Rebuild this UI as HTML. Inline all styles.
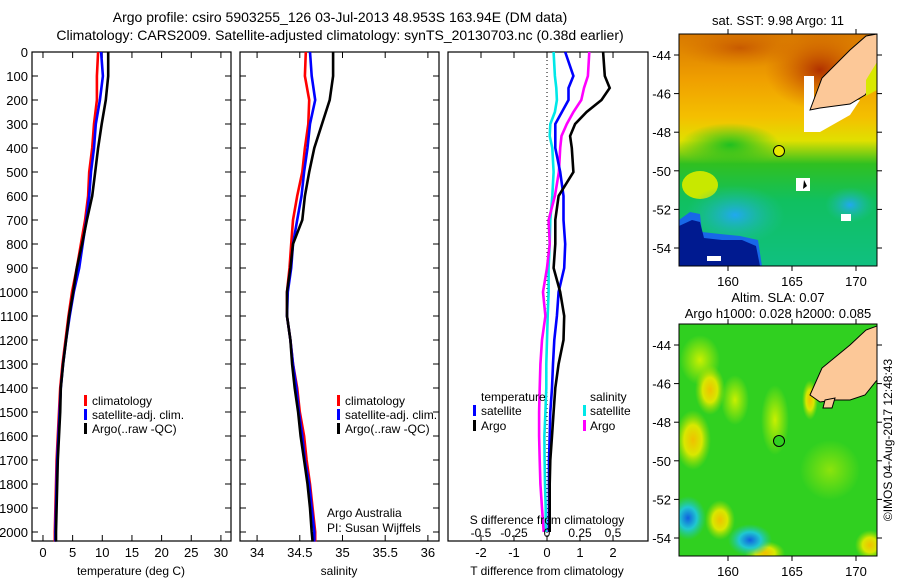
<!DOCTYPE html>
<html><head><meta charset="utf-8">
<style>
body{margin:0;background:#fff;}
svg{display:block;font-family:"Liberation Sans",sans-serif;}
</style></head>
<body>
<svg id="fig" width="900" height="580" viewBox="0 0 900 580" xmlns="http://www.w3.org/2000/svg">
<defs>
<linearGradient id="sstTop" x1="0" y1="0" x2="0" y2="1">
<stop offset="0" stop-color="#d87800"/><stop offset="0.2" stop-color="#f0a000"/><stop offset="0.36" stop-color="#f4c000"/><stop offset="0.46" stop-color="#e0e000"/><stop offset="0.56" stop-color="#30c020"/><stop offset="0.72" stop-color="#10c060"/><stop offset="1" stop-color="#10c080"/>
</linearGradient>
<radialGradient id="cyanBlob" cx="0.5" cy="0.5" r="0.5"><stop offset="0" stop-color="#20a8f0"/><stop offset="1" stop-color="#20c0a0" stop-opacity="0"/></radialGradient>
<radialGradient id="yelBlob" cx="0.5" cy="0.5" r="0.5"><stop offset="0" stop-color="#f0c000"/><stop offset="0.5" stop-color="#d8e800"/><stop offset="1" stop-color="#a0e000" stop-opacity="0"/></radialGradient>
<radialGradient id="ltBlob" cx="0.5" cy="0.5" r="0.5"><stop offset="0" stop-color="#c8f000"/><stop offset="1" stop-color="#c8f000" stop-opacity="0"/></radialGradient>
<radialGradient id="blueBlob" cx="0.5" cy="0.5" r="0.5"><stop offset="0" stop-color="#1060e0"/><stop offset="0.5" stop-color="#20c8d0"/><stop offset="1" stop-color="#20c8a0" stop-opacity="0"/></radialGradient>
<radialGradient id="redBlob" cx="0.5" cy="0.5" r="0.5"><stop offset="0" stop-color="#b03000"/><stop offset="1" stop-color="#d06000" stop-opacity="0"/></radialGradient>
<radialGradient id="grnBlob" cx="0.5" cy="0.5" r="0.5"><stop offset="0" stop-color="#20c020"/><stop offset="1" stop-color="#20c020" stop-opacity="0"/></radialGradient>
<clipPath id="clipTop"><rect x="679" y="34" width="198" height="232"/></clipPath>
<clipPath id="clipBot"><rect x="679" y="324" width="198" height="232"/></clipPath>
</defs>

<text x="340" y="22" font-size="14" text-anchor="middle">Argo profile: csiro 5903255_126 03-Jul-2013 48.953S 163.94E (DM data)</text>
<text x="340" y="40" font-size="14" text-anchor="middle">Climatology: CARS2009. Satellite-adjusted climatology: synTS_20130703.nc (0.38d earlier)</text>

<g id="panels"></g>

<g>
<text x="778" y="25" font-size="13" text-anchor="middle">sat. SST: 9.98 Argo: 11</text>
<g clip-path="url(#clipTop)">
<rect x="679" y="34" width="198" height="232" fill="url(#sstTop)"/>
<ellipse cx="820" cy="70" rx="55" ry="40" fill="url(#redBlob)"/>
<ellipse cx="740" cy="48" rx="60" ry="20" fill="url(#redBlob)" opacity="0.5"/>
<ellipse cx="730" cy="145" rx="50" ry="22" fill="url(#grnBlob)"/>
<ellipse cx="700" cy="185" rx="18" ry="14" fill="#c8e800"/>
<ellipse cx="735" cy="215" rx="50" ry="30" fill="url(#cyanBlob)"/>
<ellipse cx="850" cy="205" rx="25" ry="18" fill="url(#cyanBlob)"/>
<path d="M679 220 L690 212 L700 214 L702 232 L720 234 L740 236 L758 240 L762 266 L679 266Z" fill="#1868e8"/>
<path d="M679 226 L692 220 L700 222 L704 238 L722 240 L742 240 L756 246 L760 266 L679 266Z" fill="#001a90"/>
<rect x="804" y="76" width="10" height="56" fill="#fff"/>
<path d="M804 100 L860 100 L850 115 L820 132 L810 132Z" fill="#fff"/>
<path d="M810 110 L822 78 L850 50 L866 36 L877 34 L877 80 L865 95 L850 104 L835 106 L820 108Z" fill="#fcc898" stroke="#000" stroke-width="1"/>
<path d="M866 80 L877 62 L877 90 L866 96Z" fill="#d8e800"/>
<rect x="796" y="178" width="14" height="13" fill="#fff"/><path d="M804 180 L807 186 L803 189Z" fill="#000"/>
<rect x="841" y="214" width="10" height="7" fill="#fff"/>
<rect x="707" y="256" width="14" height="5" fill="#fff"/>
</g>
<rect x="679" y="34" width="198" height="232" fill="none" stroke="#000"/>
<circle cx="779" cy="151" r="5.5" fill="#e8e800" stroke="#000"/>
<g id="mapTicksTop"></g>
</g>

<g>
<text x="778" y="302" font-size="13" text-anchor="middle">Altim. SLA: 0.07</text>
<text x="778" y="318" font-size="13" text-anchor="middle">Argo h1000: 0.028 h2000: 0.085</text>
<g clip-path="url(#clipBot)">
<rect x="679" y="324" width="198" height="232" fill="#30d020"/>
<ellipse cx="700" cy="360" rx="20" ry="25" fill="url(#ltBlob)"/>
<ellipse cx="693" cy="440" rx="18" ry="30" fill="url(#yelBlob)"/>
<ellipse cx="710" cy="390" rx="15" ry="25" fill="url(#yelBlob)"/>
<ellipse cx="735" cy="400" rx="14" ry="25" fill="url(#ltBlob)"/>
<ellipse cx="775" cy="420" rx="14" ry="35" fill="url(#ltBlob)"/>
<ellipse cx="810" cy="400" rx="8" ry="20" fill="url(#yelBlob)"/>
<ellipse cx="720" cy="520" rx="15" ry="20" fill="url(#yelBlob)"/>
<ellipse cx="765" cy="553" rx="20" ry="12" fill="url(#yelBlob)"/>
<ellipse cx="870" cy="545" rx="15" ry="15" fill="url(#yelBlob)"/>
<ellipse cx="830" cy="470" rx="30" ry="30" fill="url(#ltBlob)" opacity="0.6"/>
<ellipse cx="688" cy="518" rx="18" ry="22" fill="url(#blueBlob)"/>
<ellipse cx="750" cy="540" rx="22" ry="16" fill="url(#blueBlob)"/>
<path d="M810 395 L822 368 L850 345 L866 330 L877 326 L877 380 L865 395 L850 400 L835 400 L820 402Z" fill="#fcc898" stroke="#000" stroke-width="1"/>
<path d="M825 400 L835 398 L832 408 L823 408Z" fill="#fcc898" stroke="#000" stroke-width="1"/>
</g>
<rect x="679" y="324" width="198" height="232" fill="none" stroke="#000"/>
<circle cx="779" cy="441" r="5.5" fill="#30d020" stroke="#000"/>
<g id="mapTicksBot"></g>
</g>
<text transform="translate(892,440) rotate(-90)" font-size="12" text-anchor="middle">©IMOS 04-Aug-2017 12:48:43</text>
</svg>

<script>
const depthsClim = [0,100,200,300,400,500,600,700,800,900,1000,1100,1200,1300,1400,1500,1600,1700,1800,1900,2000,2040];
const tempArgo  = [11.0,11.0,10.6,9.9,9.3,8.8,8.3,7.4,6.6,5.7,5.1,4.4,3.9,3.4,3.0,2.9,2.7,2.5,2.4,2.3,2.2,2.2];
const tempClim  = [9.3,9.1,9.1,8.6,8.3,7.8,7.6,7.1,6.4,5.7,4.9,4.3,3.8,3.3,2.9,2.7,2.5,2.3,2.2,2.1,2.0,2.0];
const tempSat   = [9.8,10.1,9.6,8.9,8.6,8.1,7.8,7.3,6.7,6.1,5.2,4.5,3.9,3.4,3.0,2.8,2.6,2.4,2.3,2.2,2.1,2.1];
const salArgo   = [34.89,34.89,34.85,34.76,34.67,34.61,34.56,34.53,34.42,34.39,34.35,34.35,34.39,34.41,34.44,34.48,34.51,34.55,34.59,34.62,34.64,34.65];
const salClim   = [34.57,34.56,34.61,34.60,34.56,34.53,34.47,34.42,34.40,34.38,34.35,34.35,34.39,34.42,34.47,34.50,34.55,34.58,34.62,34.65,34.68,34.68];
const salSat    = [34.62,34.64,34.68,34.62,34.59,34.55,34.52,34.47,34.42,34.40,34.36,34.35,34.39,34.42,34.46,34.49,34.53,34.56,34.61,34.64,34.67,34.67];
const depthsDiff = [0,100,150,200,250,300,350,400,500,600,700,800,900,1000,1100,1200,1300,1400,1500,1600,1700,1800,1900,2000];
const tDiffSat  = [0.55,0.8,0.65,0.65,0.45,0.25,0.25,0.25,0.4,0.5,0.5,0.55,0.52,0.35,0.3,0.22,0.18,0.15,0.1,0.08,0.06,0.06,0.06,0.05];
const tDiffArgo = [1.7,1.75,1.9,1.65,1.2,0.85,0.7,0.75,0.8,0.35,0.25,0.25,0.2,0.4,0.52,0.5,0.35,0.25,0.2,0.15,0.1,0.08,0.08,0.08];
const sDiffSat  = [0.05,0.06,0.07,0.075,0.06,0.025,0.02,0.04,0.05,0.04,0.025,0.02,0.012,0.012,0.005,0.0,-0.005,-0.005,-0.012,-0.02,-0.018,-0.015,-0.01,-0.01];
const sDiffArgo = [0.32,0.31,0.28,0.26,0.2,0.15,0.11,0.1,0.09,0.06,0.012,0.02,0.0,-0.03,-0.012,-0.038,-0.05,-0.055,-0.06,-0.06,-0.055,-0.05,-0.038,-0.025];
const depthTicks = [0,100,200,300,400,500,600,700,800,900,1000,1100,1200,1300,1400,1500,1600,1700,1800,1900,2000];
const tempTicks = [0,5,10,15,20,25,30];
const salTicks = [34,34.5,35,35.5,36];
const salTickLabels = ["34","34.5","35","35.5","36"];
const tDiffTicks = [-2,-1,0,1,2];
const sDiffTicks = [-0.5,-0.25,0,0.25,0.5];
const sDiffLabels = ["-0.5","-0.25","0","0.25","0.5"];
const lonTicks = [160,165,170];
const latTicks = [-44,-46,-48,-50,-52,-54];

const NS="http://www.w3.org/2000/svg";
function mk(tag, attrs, parent, txt){const e=document.createElementNS(NS,tag);for(const k in attrs)e.setAttribute(k,attrs[k]);if(txt!==undefined)e.textContent=txt;parent.appendChild(e);return e;}
const g=document.getElementById('panels');
const yTop=52, yBot=541;
const yD = d => yTop + d*0.24;

function panel(x0,x1,xmin,xmax,name){
  const xs = v => x0 + (v-xmin)/(xmax-xmin)*(x1-x0);
  const r=mk('rect',{x:x0,y:yTop,width:x1-x0,height:yBot-yTop,fill:'none',stroke:'#000','stroke-width':1.2},g);
  
  
  return xs;
}
function line(xs,vals,depths,color,name,scale){
  const pts=vals.map((v,i)=>xs(v*(scale||1)).toFixed(1)+','+yD(depths[i]).toFixed(1)).join(' ');
  const p=mk('polyline',{points:pts,fill:'none',stroke:color,'stroke-width':2.6},g);
  
  
}
function yTicks(x0,x1,labels){
  depthTicks.forEach(d=>{
    mk('line',{x1:x0,x2:x0+6,y1:yD(d),y2:yD(d),stroke:'#000'},g);
    mk('line',{x1:x1-6,x2:x1,y1:yD(d),y2:yD(d),stroke:'#000'},g);
    if(labels){const t=mk('text',{x:x0-4,y:yD(d)+5,'font-size':13,'text-anchor':'end'},g,String(d));
      
      }
  });
}
function xTicks(xs,ticks,labels,ylab){
  ticks.forEach((v,i)=>{
    mk('line',{x1:xs(v),x2:xs(v),y1:yBot,y2:yBot-6,stroke:'#000'},g);
    mk('line',{x1:xs(v),x2:xs(v),y1:yTop,y2:yTop+6,stroke:'#000'},g);
    const t=mk('text',{x:xs(v),y:ylab,'font-size':13,'text-anchor':'middle'},g,labels[i]);
    
    
  });
}
function txt(x,y,s,name,anchor,size){const t=mk('text',{x:x,y:y,'font-size':size||12,'text-anchor':anchor||'start'},g,s);
  
  return t;}
function legBar(x,y,color,name){const r=mk('rect',{x:x,y:y-10,width:3,height:11,fill:color},g);
  
  }

const xT = panel(32,231,-1.85,31.7,'temperature-panel');
yTicks(32,231,true);
xTicks(xT,tempTicks,tempTicks.map(String),557);
line(xT,tempClim,depthsClim,'#ff0000','temp-climatology-line');
line(xT,tempSat,depthsClim,'#0000ff','temp-satellite-line');
line(xT,tempArgo,depthsClim,'#000000','temp-argo-line');
txt(131,575,'temperature (deg C)','temperature-axis-title','middle',12);
[['climatology','#ff0000'],['satellite-adj. clim.','#0000ff'],['Argo(..raw -QC)','#000']].forEach((l,i)=>{
  legBar(84,405+i*14,l[1],'temp-legend-marker');txt(92,405+i*14,l[0],'temp-legend-entry');});

const xS = panel(240,439,33.8,36.13,'salinity-panel');
yTicks(240,439,false);
xTicks(xS,salTicks,salTickLabels,557);
line(xS,salClim,depthsClim,'#ff0000','sal-climatology-line');
line(xS,salSat,depthsClim,'#0000ff','sal-satellite-line');
line(xS,salArgo,depthsClim,'#000000','sal-argo-line');
txt(339,575,'salinity','salinity-axis-title','middle',12);
[['climatology','#ff0000'],['satellite-adj. clim.','#0000ff'],['Argo(..raw -QC)','#000']].forEach((l,i)=>{
  legBar(337,405+i*14,l[1],'sal-legend-marker');txt(345,405+i*14,l[0],'sal-legend-entry');});
txt(327,517,'Argo Australia','argo-australia-label');
txt(327,532,'PI: Susan Wijffels','pi-label');

const xD = panel(448,648,-3.0,3.06,'difference-panel');
const z=mk('line',{x1:xD(0),x2:xD(0),y1:yTop,y2:yBot,stroke:'#000','stroke-dasharray':'1,3'},g);


xTicks(xD,tDiffTicks,tDiffTicks.map(String),557);
line(xD,sDiffSat,depthsDiff,'#00e8e8','sdiff-satellite-line',4);
line(xD,sDiffArgo,depthsDiff,'#ff00ff','sdiff-argo-line',4);
line(xD,tDiffSat,depthsDiff,'#0000ff','tdiff-satellite-line');
line(xD,tDiffArgo,depthsDiff,'#000000','tdiff-argo-line');
sDiffTicks.forEach((v,i)=>{txt(xD(v*4),537,sDiffLabels[i],'s-diff-tick-label','middle',12);});
txt(547,524,'S difference from climatology','s-diff-axis-title','middle',12);
txt(547,575,'T difference from climatology','t-diff-axis-title','middle',12);
txt(481,401,'temperature','diff-legend-temperature-header');
legBar(473,415,'#0000ff','tdiff-legend-marker');txt(481,415,'satellite','tdiff-legend-satellite');
legBar(473,430,'#000','tdiff-legend-marker');txt(481,430,'Argo','tdiff-legend-argo');
txt(590,401,'salinity','diff-legend-salinity-header');
legBar(583,415,'#00e8e8','sdiff-legend-marker');txt(590,415,'satellite','sdiff-legend-satellite');
legBar(583,430,'#ff00ff','sdiff-legend-marker');txt(590,430,'Argo','sdiff-legend-argo');

function mapTicks(id,y0,yLat44){
  const gg=document.getElementById(id);
  const lx = lon => 728 + (lon-160)*12.8;
  const ly = lat => yLat44 + (-44-lat)*19.3;
  lonTicks.forEach(l=>{
    mk('line',{x1:lx(l),x2:lx(l),y1:y0,y2:y0-5,stroke:'#000'},gg);
    mk('line',{x1:lx(l),x2:lx(l),y1:y0+232,y2:y0+237,stroke:'#000'},gg);
    const t=mk('text',{x:lx(l),y:y0+252,'font-size':13,'text-anchor':'middle'},gg,String(l));
    
    
  });
  latTicks.forEach(l=>{
    mk('line',{x1:674,x2:679,y1:ly(l),y2:ly(l),stroke:'#000'},gg);
    mk('line',{x1:877,x2:882,y1:ly(l),y2:ly(l),stroke:'#000'},gg);
    const t=mk('text',{x:671,y:ly(l)+5,'font-size':13,'text-anchor':'end'},gg,String(l));
    
    
  });
}
mapTicks('mapTicksTop',34,55);
mapTicks('mapTicksBot',324,345);
</script>
</body></html>
